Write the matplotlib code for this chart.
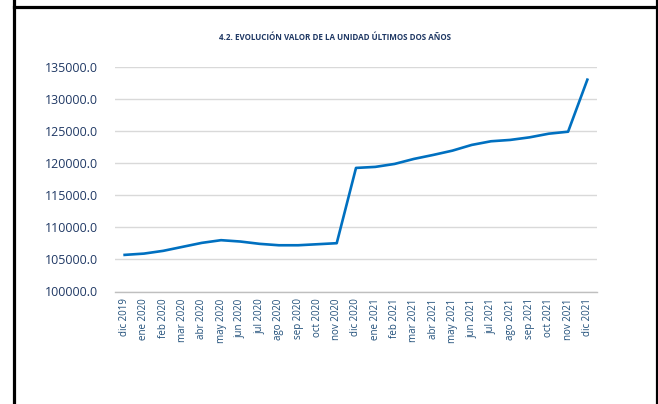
import matplotlib
matplotlib.use("Agg")
import matplotlib.pyplot as plt
from matplotlib.lines import Line2D

# monthly unit value, dic 2019 .. dic 2021
months = ["dic 2019", "ene 2020", "feb 2020", "mar 2020", "abr 2020", "may 2020",
          "jun 2020", "jul 2020", "ago 2020", "sep 2020", "oct 2020", "nov 2020",
          "dic 2020", "ene 2021", "feb 2021", "mar 2021", "abr 2021", "may 2021",
          "jun 2021", "jul 2021", "ago 2021", "sep 2021", "oct 2021", "nov 2021",
          "dic 2021"]
values = [105700, 105900, 106330, 106950, 107570, 107990,
          107780, 107420, 107200, 107200, 107360, 107520,
          119240, 119400, 119860, 120640, 121260, 121930,
          122820, 123390, 123600, 124000, 124570, 124880,
          132980]
yticks = [100000, 105000, 110000, 115000, 120000, 125000, 130000, 135000]

title = "4.2. EVOLUCIÓN VALOR DE LA UNIDAD ÚLTIMOS DOS AÑOS"
navy = "#1F3864"

plt.rcParams["font.family"] = ["Open Sans", "DejaVu Sans"]

W, H = 658, 404
fig = plt.figure(figsize=(W / 100, H / 100), dpi=100)
ax = fig.add_axes([115 / W, 1 - 291.5 / H, (597 - 115) / W, (291.5 - 66.7) / H])

x = list(range(len(months)))
ax.plot(x, values, color="#0070C0", linewidth=1.9, solid_joinstyle="round")

ax.set_xlim(-0.5, len(months) - 0.5)
ax.set_ylim(yticks[0], yticks[-1])
ax.set_yticks(yticks)
ax.set_yticklabels([f"{v:.1f}" for v in yticks], fontsize=8.9, color=navy)
ax.set_xticks(x)
ax.set_xticklabels(months, rotation=90, fontsize=7.0, color="#1F4E79")
ax.tick_params(length=0, pad=5)
ax.tick_params(axis="y", pad=12)

ax.grid(axis="y", color="#D9D9D9", linewidth=1.0)
ax.set_axisbelow(True)
for s in ["top", "right", "left"]:
    ax.spines[s].set_visible(False)
ax.spines["bottom"].set_color("#BFBFBF")
ax.spines["bottom"].set_linewidth(1.0)

fig.text(335 / W, 1 - 38 / H, title, ha="center", va="center",
         fontsize=5.8, fontweight="bold", color=navy)

# black frame from the sheet
def px_line(x0, y0, x1, y1):
    fig.add_artist(Line2D([x0 / W, x1 / W], [1 - y0 / H, 1 - y1 / H],
                          transform=fig.transFigure, color="black", linewidth=2.3))

px_line(13.5, 0, 13.5, H)
px_line(13.5, 6.5, 656.5, 6.5)
px_line(656.5, 0, 656.5, H)

fig.savefig("out.png", dpi=100)
